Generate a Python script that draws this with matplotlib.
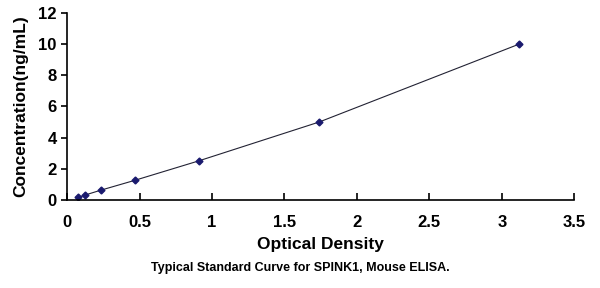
import matplotlib
matplotlib.use("Agg")
import matplotlib.pyplot as plt

# Standard curve data (OD vs concentration)
od = [0.074, 0.124, 0.233, 0.465, 0.907, 1.74, 3.12]
conc = [0.156, 0.3125, 0.625, 1.25, 2.5, 5, 10]

xticks = [0, 0.5, 1, 1.5, 2, 2.5, 3, 3.5]
xtick_labels = ["0", "0.5", "1", "1.5", "2", "2.5", "3", "3.5"]
yticks = [0, 2, 4, 6, 8, 10, 12]

plt.rcParams['font.family'] = ['Liberation Sans', 'DejaVu Sans']

fig = plt.figure(figsize=(6, 2.88), dpi=100)
ax = fig.add_axes([0.112, 0.306, 0.845, 0.649])

ax.plot(od, conc, color="#222233", linewidth=0.8)
ax.plot(od, conc, linestyle="none", marker="D", markersize=3.5,
        color="#1a1a6e")

ax.set_xlim(0, 3.5)
ax.set_ylim(0, 12)
ax.set_xticks(xticks)
ax.set_xticklabels(xtick_labels)
ax.set_yticks(yticks)

ax.spines['top'].set_visible(False)
ax.spines['right'].set_visible(False)
ax.spines['left'].set_linewidth(1.2)
ax.spines['bottom'].set_linewidth(1.2)
ax.tick_params(axis='x', direction='in', length=5, width=1.2, labelsize=12, pad=11)
ax.tick_params(axis='y', direction='out', length=4, width=1.2, labelsize=12)
for lbl in ax.get_xticklabels() + ax.get_yticklabels():
    lbl.set_fontweight('bold')

ax.set_xlabel("Optical Density", fontsize=12.5, fontweight='bold', labelpad=5)
ax.set_ylabel("Concentration(ng/mL)", fontsize=12.5, fontweight='bold', labelpad=7)

fig.text(0.5, 0.07, "Typical Standard Curve for SPINK1, Mouse ELISA.",
         ha='center', va='center', fontsize=9, fontweight='bold')

fig.savefig("out.png", dpi=100)
